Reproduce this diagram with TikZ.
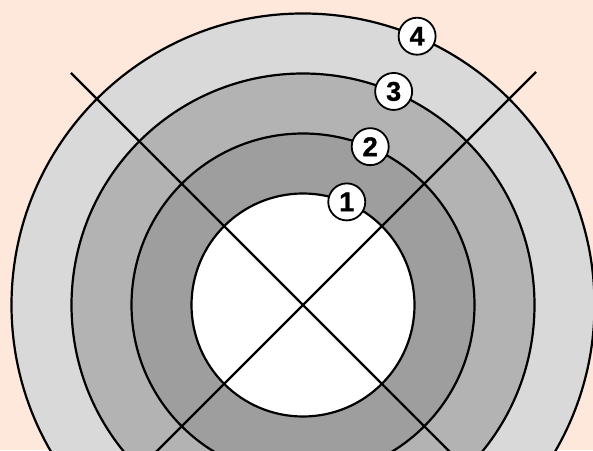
\documentclass[tikz,border=0pt]{standalone}
\usepackage{fontspec}
\setmainfont{Liberation Sans}
\newfontfamily\numfont[FakeBold=1.2]{Liberation Sans Bold}
\usetikzlibrary{calc}
\definecolor{bgc}{HTML}{FDE8DB}
\definecolor{ringA}{HTML}{D9D9D9}
\definecolor{ringB}{HTML}{B3B3B3}
\definecolor{ringC}{HTML}{9E9E9E}
\begin{document}
\begin{tikzpicture}[x=1pt,y=1pt,
  ring/.style={draw=black,line width=2.2pt},
  cross/.style={draw=black,line width=2.4pt},
  numlabel/.style={circle,draw=black,fill=white,line width=1.8pt,minimum size=37pt,inner sep=0pt,font=\numfont\fontsize{27}{27}\selectfont}]
\useasboundingbox (0,0) rectangle (593,450);
\fill[bgc] (0,0) rectangle (593,450);
\coordinate (c) at (303,145);
\begin{scope}
\clip (0,0) rectangle (593,450);
\fill[ringA,ring] (c) circle (291.5);
\fill[ringB,ring] (c) circle (231.5);
\fill[ringC,ring] (c) circle (171.5);
\fill[white,ring] (c) circle (111.5);
\coordinate (la) at (71,377);
\coordinate (lb) at (-97,-255);
\coordinate (ra) at (536,378);
\coordinate (rb) at (703,-255);
\draw[cross] (la) -- (c) -- (rb);
\draw[cross] (ra) -- (c) -- (lb);
\end{scope}
\node[numlabel] (n1) at ($(c)+(67:112)$) {1};
\node[numlabel] (n2) at ($(c)+(67:172)$) {2};
\node[numlabel] (n3) at ($(c)+(67:232)$) {3};
\node[numlabel] (n4) at ($(c)+(67:292)$) {4};
\end{tikzpicture}
\end{document}
